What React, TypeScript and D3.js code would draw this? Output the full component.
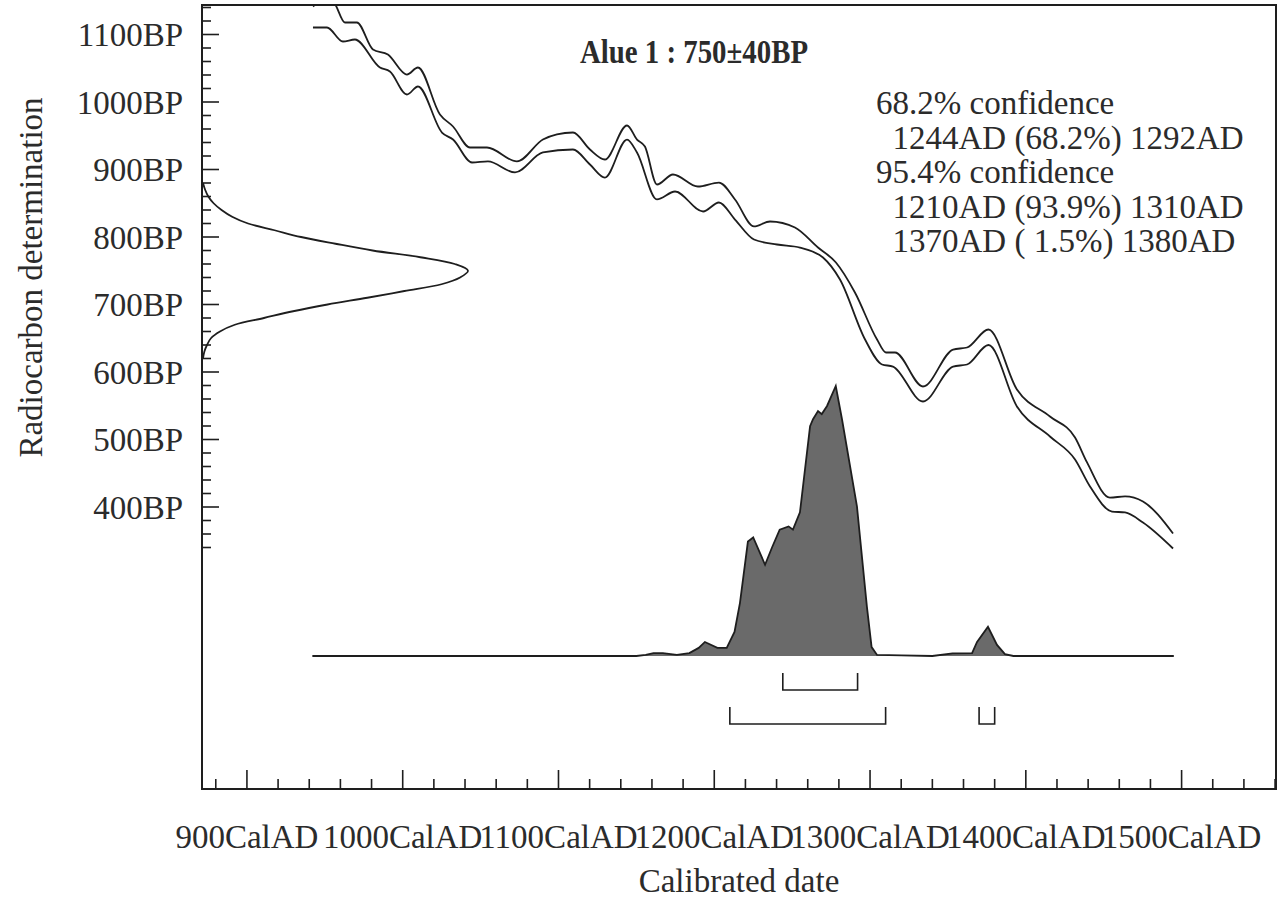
import * as d3 from 'd3';

const FONT = "'Liberation Serif', 'Times New Roman', serif";
const INK = '#1e1e1e';
const TEXT = '#2b2b2b';

// axis ticks
const yearMajor = [900, 1000, 1100, 1200, 1300, 1400, 1500];
const yearLabels = ['900CalAD', '1000CalAD', '1100CalAD', '1200CalAD', '1300CalAD', '1400CalAD', '1500CalAD'];
const bpMajor = [400, 500, 600, 700, 800, 900, 1000, 1100];
const bpLabels = ['400BP', '500BP', '600BP', '700BP', '800BP', '900BP', '1000BP', '1100BP'];

const title = 'Alue 1 : 750±40BP';
const confidenceLines = [
  '68.2% confidence',
  '  1244AD (68.2%) 1292AD',
  '95.4% confidence',
  '  1210AD (93.9%) 1310AD',
  '  1370AD ( 1.5%) 1380AD',
];

// calibration curve envelope, [cal year AD, BP]
const curveUpper: [number, number][] = [
  [942.4, 1141.5], [950.7, 1152], [955.9, 1147], [962.9, 1117.8], [970.6, 1117.8],
  [980.9, 1077.8], [990.5, 1070.4], [1002.7, 1040.7], [1009.8, 1051.1], [1023.9, 981.5],
  [1032.3, 963.7], [1043.2, 932.6], [1054.1, 932.6], [1073.3, 911.9], [1090, 944.4],
  [1099, 951.9], [1109.3, 954.8], [1120.2, 929.6], [1129.8, 914.8], [1144, 965.2],
  [1150.4, 944.4], [1155.5, 934], [1163.2, 877.8], [1173.5, 892.6], [1189.5, 874.8],
  [1203, 880.7], [1213.3, 855.6], [1225.5, 815.6], [1235.8, 823], [1251.8, 814.1],
  [1266.6, 784.4], [1278.1, 762.2], [1290.3, 717.8], [1304.5, 648.1], [1310.2, 628.9],
  [1316, 628.9], [1334, 578.5], [1353.3, 633.3], [1362.3, 636.3], [1376, 663],
  [1394.3, 574.1], [1415.5, 534.1], [1431.6, 503], [1439.3, 466], [1454, 414],
  [1463.7, 415.6], [1475.2, 408.1], [1494.5, 360.7],
];
const curveLower: [number, number][] = [
  [942.4, 1110.4], [951.4, 1110.4], [961.6, 1089.6], [969.3, 1092.6], [985.4, 1051.1],
  [991.8, 1045.2], [1002.7, 1011.1], [1009.8, 1023], [1025.2, 954.8], [1032.3, 944.4],
  [1044.5, 910.4], [1054.7, 911.9], [1072.1, 895.6], [1090, 925.2], [1109.3, 929.6],
  [1120.2, 907.4], [1129.8, 888.1], [1144, 944.4], [1150.4, 925.2], [1163.2, 855.6],
  [1174.8, 867.4], [1192.8, 837.8], [1203, 851.1], [1213.3, 825.9], [1225.5, 796.3],
  [1240.3, 788.9], [1255, 784.4], [1269.8, 769.6], [1280.7, 737], [1296.8, 648.1],
  [1307.7, 611.1], [1314.7, 608.1], [1334, 556.3], [1353.3, 608.1], [1362.3, 611.1],
  [1376, 640], [1394.3, 548.9], [1415.5, 504.4], [1431.6, 470.4], [1441.2, 430.4],
  [1455.3, 393.3], [1463.7, 391.9], [1475.2, 377], [1494.5, 338.5],
];

// radiocarbon measurement, [BP, relative probability]
const c14Dist: [number, number][] = [
  [880, 0], [870, 0.008], [860, 0.02], [850, 0.04], [840, 0.07], [830, 0.11],
  [820, 0.17], [810, 0.27], [800, 0.37], [790, 0.5], [780, 0.64], [770, 0.82],
  [760, 0.95], [750, 1], [740, 0.97], [730, 0.9], [720, 0.76], [710, 0.62],
  [700, 0.47], [690, 0.34], [680, 0.23], [670, 0.12], [660, 0.064], [650, 0.03],
  [640, 0.015], [630, 0.005], [620, 0],
];

// calibrated date, [cal year AD, relative probability]
const calDist: [number, number][] = [
  [942, 0], [1150, 0], [1156, 0.004], [1161, 0.011], [1167, 0.011], [1176, 0.004],
  [1184, 0.011], [1190, 0.03], [1194, 0.052], [1202, 0.03], [1208, 0.03], [1213, 0.089],
  [1216.5, 0.197], [1221.6, 0.424], [1225, 0.439], [1232.6, 0.338], [1237, 0.401],
  [1242, 0.468], [1247.7, 0.48], [1250.5, 0.468], [1255, 0.532], [1261.5, 0.851],
  [1263.4, 0.877], [1266.6, 0.907], [1269, 0.896], [1272.4, 0.926], [1278, 1],
  [1282, 0.877], [1291.6, 0.554], [1298, 0.182], [1301, 0.033], [1304.5, 0.004],
  [1320, 0.002], [1340, 0], [1353, 0.01], [1365.5, 0.011], [1368.7, 0.052],
  [1375.7, 0.108], [1381.5, 0.041], [1386.6, 0.007], [1392, 0], [1495, 0],
];

const range68: [number, number][] = [[1244, 1292]];
const range95: [number, number][] = [[1210, 1310], [1370, 1380]];

export default function App() {
  const W = 1281;
  const H = 906;
  const left = 202;
  const right = 1276;
  const top = 5;
  const bottom = 789;

  const x = d3.scaleLinear().domain([871.8, 1560.6]).range([203, right]);
  const y = d3.scaleLinear().domain([1100, 400]).range([34.5, 507]);
  const c14x = d3.scaleLinear().domain([0, 1]).range([203, 468]);
  const base = 656;
  const calY = d3.scaleLinear().domain([0, 1]).range([base, base - 270]);

  const envLine = d3
    .line<[number, number]>()
    .x((d) => x(d[0]))
    .y((d) => y(d[1]))
    .curve(d3.curveMonotoneX);
  const c14Line = d3
    .line<[number, number]>()
    .x((d) => c14x(d[1]))
    .y((d) => y(d[0]))
    .curve(d3.curveCatmullRom);
  const calArea = d3
    .area<[number, number]>()
    .x((d) => x(d[0]))
    .y0(base)
    .y1((d) => calY(d[1]));
  const calLine = d3
    .line<[number, number]>()
    .x((d) => x(d[0]))
    .y((d) => calY(d[1]));

  const yearTicks = d3.range(880, 1561, 20);
  const bpTicks = d3.range(340, 1141, 20);

  const bracket = (r: [number, number], rowTop: number, key: string) => {
    const x0 = x(r[0]);
    const x1 = x(r[1]);
    return (
      <path
        key={key}
        d={`M${x0},${rowTop}V${rowTop + 17}H${x1}V${rowTop}`}
        fill="none"
        stroke={INK}
        strokeWidth={1.6}
      />
    );
  };

  return (
    <div style={{ position: 'fixed', left: 0, top: 0, background: '#fff' }}>
      <svg width={W} height={H} viewBox={`0 0 ${W} ${H}`} style={{ display: 'block' }} fontFamily={FONT}>
        <defs>
          <clipPath id="plot-clip">
            <rect x={left} y={top} width={right - left} height={bottom - top} />
          </clipPath>
        </defs>
        <rect x={0} y={0} width={W} height={H} fill="#fff" />

        {/* calibrated distribution */}
        <path d={calArea(calDist) ?? ''} fill="#6a6a6a" />
        <path d={calLine(calDist) ?? ''} fill="none" stroke={INK} strokeWidth={1.8} />

        {/* confidence brackets */}
        {range68.map((r, i) => bracket(r, base + 17, `r68-${i}`))}
        {range95.map((r, i) => bracket(r, base + 51, `r95-${i}`))}

        {/* calibration curve */}
        <g clipPath="url(#plot-clip)" fill="none" stroke={INK} strokeWidth={1.8}>
          <path d={envLine(curveUpper) ?? ''} />
          <path d={envLine(curveLower) ?? ''} />
          <path d={c14Line(c14Dist) ?? ''} />
        </g>

        {/* frame */}
        <rect x={left} y={top} width={right - left} height={bottom - top} fill="none" stroke={INK} strokeWidth={2} />

        {/* y ticks */}
        {bpTicks.map((bp) => (
          <line
            key={`yt-${bp}`}
            x1={left}
            x2={left + (bp % 100 === 0 ? 17 : 9)}
            y1={y(bp)}
            y2={y(bp)}
            stroke={INK}
            strokeWidth={1.6}
          />
        ))}
        {bpMajor.map((bp, i) => (
          <text key={`yl-${bp}`} x={183} y={y(bp)} dy="0.36em" textAnchor="end" fontSize={33} fill={TEXT}>
            {bpLabels[i]}
          </text>
        ))}

        {/* x ticks */}
        {yearTicks.map((yr) => (
          <line
            key={`xt-${yr}`}
            x1={x(yr)}
            x2={x(yr)}
            y1={bottom}
            y2={bottom - (yr % 100 === 0 ? 19 : 10)}
            stroke={INK}
            strokeWidth={1.6}
          />
        ))}
        {yearMajor.map((yr, i) => (
          <text key={`xl-${yr}`} x={x(yr)} y={848} textAnchor="middle" fontSize={33} fill={TEXT}>
            {yearLabels[i]}
          </text>
        ))}

        {/* axis titles */}
        <text x={(left + right) / 2} y={892} textAnchor="middle" fontSize={33} fill={TEXT}>
          Calibrated date
        </text>
        <text
          transform={`translate(42, ${(y(340) + y(1140)) / 2}) rotate(-90)`}
          textAnchor="middle"
          fontSize={33}
          fill={TEXT}
        >
          Radiocarbon determination
        </text>

        {/* title and ranges */}
        <text
          x={580}
          y={63}
          fontSize={34}
          fontWeight="bold"
          fill={TEXT}
          textLength={228}
          lengthAdjust="spacingAndGlyphs"
        >
          {title}
        </text>
        {confidenceLines.map((t, i) => (
          <text key={`cl-${i}`} x={876} y={114 + i * 34.5} fontSize={33} fill={TEXT} style={{ whiteSpace: 'pre' }}>
            {t}
          </text>
        ))}
      </svg>
    </div>
  );
}
